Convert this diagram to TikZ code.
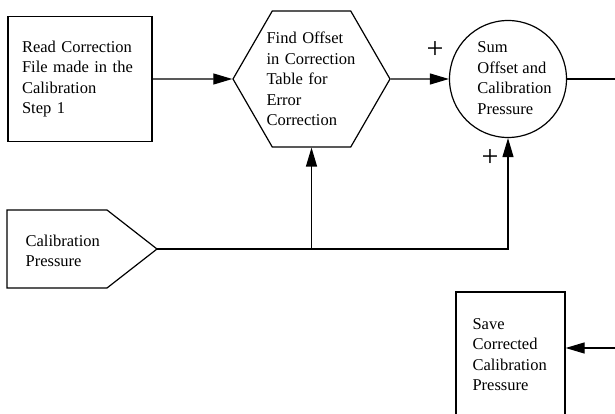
\documentclass[tikz,border=0pt]{standalone}
\usepackage{fontspec}
\setmainfont{Liberation Serif}
\usetikzlibrary{shapes.geometric,arrows.meta}

\begin{document}
\begin{tikzpicture}[x=1pt, y=-1pt, >={Triangle[length=19pt,width=11pt]}, line width=1.2pt,
  txt/.style={align=left, inner sep=0pt, font=\fontsize{16.5}{20.5}\selectfont},
  box/.style={draw, rectangle, txt},
  plus/.style={inner sep=0pt, font=\fontsize{30}{30}\selectfont}]
\useasboundingbox (0,0) rectangle (615,414);
\clip (0,0) rectangle (615,414);
% process boxes
\node[box, minimum width=144, minimum height=125, text width=116] (read) at (80,79) {Read Correction\\File made in the\\Calibration\\Step 1};
\node[draw, regular polygon, regular polygon sides=6, minimum size=157, txt, text width=90] (find) at (311.5,79) {Find Offset\\in Correction\\Table for\\Error\\Correction};
\node[draw, circle, minimum size=117] (sum) at (508,79) {};
\node[txt] (sumtxt) at (514.5,78) {Sum\\Offset and\\Calibration\\Pressure};
\node[box, minimum width=109, minimum height=125, text width=76] (save) at (510.5,354.5) {Save\\Corrected\\Calibration\\Pressure};
% input
\draw (7,210)--(107,210)--(157,249)--(107,288)--(7,288)--cycle;
\node[txt, anchor=west] (caltxt) at (25,251) {Calibration\\Pressure};
\coordinate (calout) at (157,249);
\coordinate (sumout) at (615,79);
\coordinate (savein) at (615,348);
% signs
\node[plus] (plusa) at (435,50) {+};
\node[plus] (plusb) at (490,158) {+};
% connectors
\draw[->] (read.east) -- (find.west);
\draw[->] (find.east) -- (sum.west);
\draw (sum.east) -- (sumout);
\draw (calout) -- (calout -| find.south);
\draw[->] (calout -| find.south) -- (find.south);
\draw[->] (calout -| find.south) -| (sum.south);
\draw[->] (savein) -- (save.east |- savein);
\end{tikzpicture}
\end{document}
